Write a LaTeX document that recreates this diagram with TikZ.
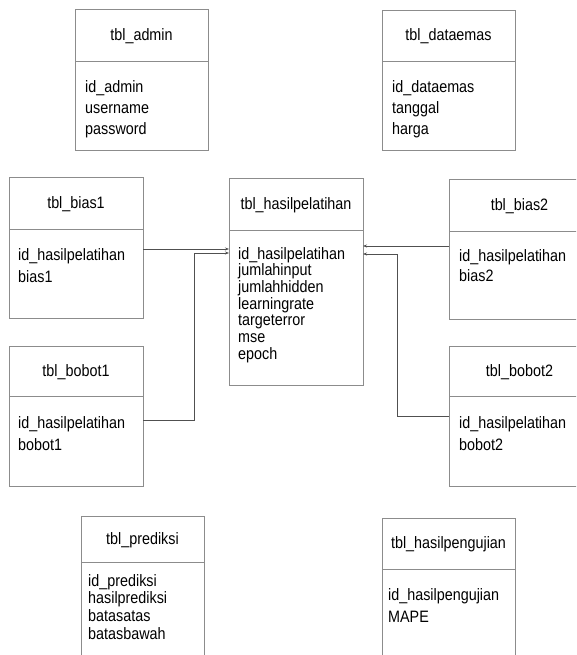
\documentclass[tikz,border=0pt]{standalone}
\usepackage{fontspec}
\setmainfont{Liberation Sans}[FakeStretch=0.87]
\usetikzlibrary{arrows.meta}

\definecolor{boxgray}{HTML}{8C8C8C}
\definecolor{linegray}{HTML}{505050}

\tikzset{
  tblbox/.style={draw=boxgray, line width=0.8pt, inner sep=0pt, outer sep=0pt, anchor=north west},
  tblline/.style={draw=boxgray, line width=0.8pt},
  ttl/.style={inner sep=0pt, font=\fontsize{16.5}{19}\selectfont},
  lead/.style={font=\fontsize{16.5}{#1}\selectfont},
  flds/.style={inner sep=0pt, anchor=north west, align=left, lead=21},
  conn/.style={draw=linegray, line width=0.7pt, -{Stealth[length=4pt,width=3pt]}},
}

% #1 name, #2 left, #3 top, #4 right, #5 divider, #6 bottom, #7 title, #8 field options, #9 fields
\newcommand\erdtable[9]{%
  \node[tblbox, minimum width={(#4-#2)*1pt}, minimum height={(#6-#3)*1pt}] (#1) at (#2,#3) {};
  \draw[tblline] (#1.west |- 0,#5) -- (#1.east |- 0,#5);
  \node[ttl] (#1-t) at ({(#2+#4)/2},{(#3+#5)/2+1}) {#7};
  \node[flds, #8] (#1-f) {#9};
}

\begin{document}
\begin{tikzpicture}[x=1pt, y=-1pt]
  \useasboundingbox (0,0) rectangle (576,655);
  \clip (0,0) rectangle (576,655);

  \erdtable{admin}{75}{9}{208}{61}{150}{tbl\_admin}{at={(85,80)}, lead=21}{id\_admin\\username\\password}
  \erdtable{emas}{382}{10}{515}{61}{150}{tbl\_dataemas}{at={(392,80)}, lead=21}{id\_dataemas\\tanggal\\harga}
  \erdtable{bias1}{9}{177}{143}{229}{318}{tbl\_bias1}{at={(18,248)}, lead=22}{id\_hasilpelatihan\\bias1}
  \erdtable{hasil}{229}{178}{363}{230}{385}{tbl\_hasilpelatihan}{at={(238,247)}, lead=16.7}{id\_hasilpelatihan\\jumlahinput\\jumlahhidden\\learningrate\\targeterror\\mse\\epoch}
  \erdtable{bias2}{449}{179}{590}{231}{319}{tbl\_bias2}{at={(459,249)}, lead=20.5}{id\_hasilpelatihan\\bias2}
  \erdtable{bobot1}{9}{346}{143}{396}{486}{tbl\_bobot1}{at={(18,416)}, lead=22}{id\_hasilpelatihan\\bobot1}
  \erdtable{bobot2}{449}{346}{590}{396}{486}{tbl\_bobot2}{at={(459,416)}, lead=22}{id\_hasilpelatihan\\bobot2}
  \erdtable{prediksi}{81}{516}{204}{562}{680}{tbl\_prediksi}{at={(88,574)}, lead=17.7}{id\_prediksi\\hasilprediksi\\batasatas\\batasbawah}
  \erdtable{uji}{382}{518}{515}{569}{680}{tbl\_hasilpengujian}{at={(388,588)}, lead=22}{id\_hasilpengujian\\MAPE}

  % relations into tbl_hasilpelatihan
  \draw[conn] (bias1.east |- 0,249) -- (hasil.west |- 0,249);
  \draw[conn] (bobot1.east |- 0,420) -| (194,253) -- (hasil.west |- 0,253);
  \draw[conn] (bias2.west |- 0,246) -- (hasil.east |- 0,246);
  \draw[conn] (bobot2.west |- 0,416) -| (397,254) -- (hasil.east |- 0,254);
\end{tikzpicture}
\end{document}
